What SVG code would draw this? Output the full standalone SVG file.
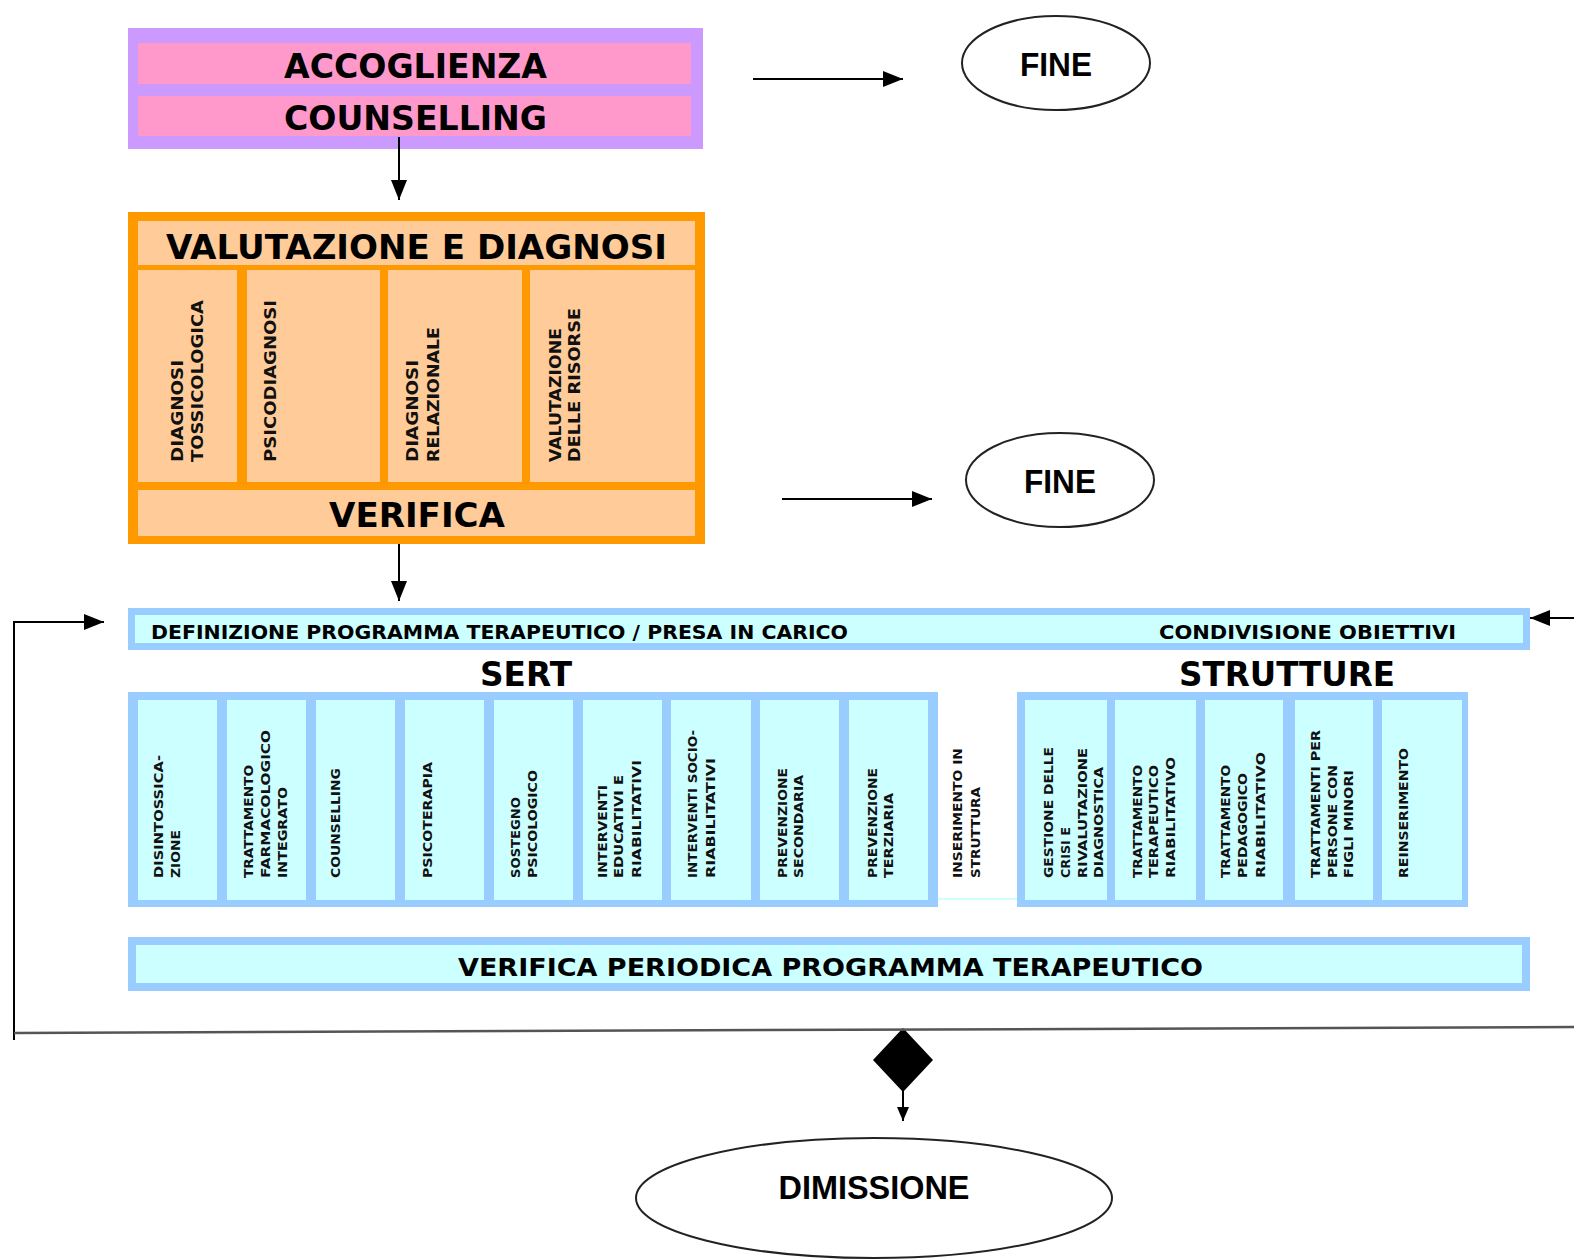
<svg xmlns="http://www.w3.org/2000/svg" width="1574" height="1260" viewBox="0 0 1574 1260">
  <style>
    .head { font-family: "DejaVu Sans", Verdana, sans-serif; font-weight: bold; fill: #000; }
    .term { font-family: "Liberation Sans", Arial, sans-serif; font-weight: bold; fill: #000; text-anchor: middle; }
    .vt { font-family: "DejaVu Sans", Verdana, sans-serif; font-weight: bold; font-size: 15px; fill: #111; }
    .vs { font-family: "DejaVu Sans", Verdana, sans-serif; font-weight: bold; font-size: 12px; fill: #111; }
    .purple { fill: #CC99FF; }
    .pink { fill: #FF99CC; }
    .orange { fill: #FF9900; }
    .peach { fill: #FFCC99; }
    .blue { fill: #99CCFF; }
    .cyan { fill: #CCFFFF; }
    .oval { fill: #fff; stroke: #222; stroke-width: 2; }
    .conn { fill: none; stroke: #000; stroke-width: 2; }
  </style>
  <defs>
    <marker id="arrow" markerUnits="userSpaceOnUse" markerWidth="20" markerHeight="16" refX="20" refY="8" orient="auto">
      <path d="M0,0 L20,8 L0,16 Z" fill="#000"/>
    </marker>
    <marker id="arrow-small" markerUnits="userSpaceOnUse" markerWidth="14" markerHeight="12" refX="14" refY="6" orient="auto">
      <path d="M0,0 L14,6 L0,12 Z" fill="#000"/>
    </marker>
  </defs>
  <rect width="1574" height="1260" fill="#fff"/>

  <!-- Reception / counselling -->
  <g id="accoglienza">
    <rect class="purple" x="128" y="28" width="575" height="121"/>
    <rect class="pink" x="138" y="43" width="553" height="41"/>
    <rect class="pink" x="138" y="96" width="553" height="40"/>
    <text class="head" x="284" y="78" font-size="33" textLength="263" lengthAdjust="spacingAndGlyphs">ACCOGLIENZA</text>
    <text class="head" x="284" y="130" font-size="33" textLength="263" lengthAdjust="spacingAndGlyphs">COUNSELLING</text>
  </g>

  <!-- Assessment and diagnosis -->
  <g id="valutazione">
    <rect class="orange" x="128" y="212" width="577" height="332"/>
    <rect class="peach" x="138" y="221" width="557" height="44"/>
    <rect class="peach" x="138" y="270" width="99" height="212"/>
    <rect class="peach" x="247" y="270" width="133" height="212"/>
    <rect class="peach" x="388" y="270" width="134" height="212"/>
    <rect class="peach" x="530" y="270" width="165" height="212"/>
    <rect class="peach" x="138" y="490" width="557" height="46"/>
    <text class="head" x="166" y="259" font-size="33" textLength="501" lengthAdjust="spacingAndGlyphs">VALUTAZIONE E DIAGNOSI</text>
    <text class="vt" transform="translate(183,462) rotate(-90)" textLength="102" lengthAdjust="spacingAndGlyphs">DIAGNOSI</text>
    <text class="vt" transform="translate(203,462) rotate(-90)" textLength="162" lengthAdjust="spacingAndGlyphs">TOSSICOLOGICA</text>
    <text class="vt" transform="translate(276,462) rotate(-90)" textLength="162" lengthAdjust="spacingAndGlyphs">PSICODIAGNOSI</text>
    <text class="vt" transform="translate(418,462) rotate(-90)" textLength="102" lengthAdjust="spacingAndGlyphs">DIAGNOSI</text>
    <text class="vt" transform="translate(439,462) rotate(-90)" textLength="135" lengthAdjust="spacingAndGlyphs">RELAZIONALE</text>
    <text class="vt" transform="translate(561,462) rotate(-90)" textLength="134" lengthAdjust="spacingAndGlyphs">VALUTAZIONE</text>
    <text class="vt" transform="translate(580,462) rotate(-90)" textLength="154" lengthAdjust="spacingAndGlyphs">DELLE RISORSE</text>
    <text class="head" x="329" y="527" font-size="33" textLength="176" lengthAdjust="spacingAndGlyphs">VERIFICA</text>
  </g>

  <!-- End states -->
  <g id="fine-1">
    <ellipse class="oval" cx="1056" cy="63" rx="94" ry="47"/>
    <text class="term" x="1056" y="76" font-size="33" textLength="72" lengthAdjust="spacingAndGlyphs">FINE</text>
  </g>
  <g id="fine-2">
    <ellipse class="oval" cx="1060" cy="480" rx="94" ry="47"/>
    <text class="term" x="1060" y="493" font-size="33" textLength="72" lengthAdjust="spacingAndGlyphs">FINE</text>
  </g>

  <!-- Therapeutic programme definition -->
  <g id="definizione">
    <rect class="blue" x="128" y="608" width="1402" height="42"/>
    <rect class="cyan" x="135" y="615" width="1388" height="28"/>
    <text class="head" x="151" y="639" font-size="19" textLength="697" lengthAdjust="spacingAndGlyphs">DEFINIZIONE PROGRAMMA TERAPEUTICO / PRESA IN CARICO</text>
    <text class="head" x="1159" y="639" font-size="19" textLength="297" lengthAdjust="spacingAndGlyphs">CONDIVISIONE OBIETTIVI</text>
  </g>

  <!-- SERT services -->
  <g id="sert">
    <text class="head" x="480" y="686" font-size="33" textLength="92" lengthAdjust="spacingAndGlyphs">SERT</text>
    <rect class="blue" x="128" y="692" width="810" height="215"/>
    <rect class="cyan" x="138" y="700" width="79" height="200"/>
    <rect class="cyan" x="227" y="700" width="79" height="200"/>
    <rect class="cyan" x="316" y="700" width="79" height="200"/>
    <rect class="cyan" x="405" y="700" width="79" height="200"/>
    <rect class="cyan" x="494" y="700" width="79" height="200"/>
    <rect class="cyan" x="583" y="700" width="79" height="200"/>
    <rect class="cyan" x="671" y="700" width="80" height="200"/>
    <rect class="cyan" x="760" y="700" width="79" height="200"/>
    <rect class="cyan" x="849" y="700" width="79" height="200"/>
    <text class="vs" transform="translate(163,878) rotate(-90)" textLength="123" lengthAdjust="spacingAndGlyphs">DISINTOSSICA-</text>
    <text class="vs" transform="translate(180,878) rotate(-90)" textLength="48" lengthAdjust="spacingAndGlyphs">ZIONE</text>
    <text class="vs" transform="translate(253,878) rotate(-90)" textLength="113" lengthAdjust="spacingAndGlyphs">TRATTAMENTO</text>
    <text class="vs" transform="translate(270,878) rotate(-90)" textLength="148" lengthAdjust="spacingAndGlyphs">FARMACOLOGICO</text>
    <text class="vs" transform="translate(287,878) rotate(-90)" textLength="91" lengthAdjust="spacingAndGlyphs">INTEGRATO</text>
    <text class="vs" transform="translate(340,878) rotate(-90)" textLength="110" lengthAdjust="spacingAndGlyphs">COUNSELLING</text>
    <text class="vs" transform="translate(432,878) rotate(-90)" textLength="116" lengthAdjust="spacingAndGlyphs">PSICOTERAPIA</text>
    <text class="vs" transform="translate(520,878) rotate(-90)" textLength="81" lengthAdjust="spacingAndGlyphs">SOSTEGNO</text>
    <text class="vs" transform="translate(537,878) rotate(-90)" textLength="108" lengthAdjust="spacingAndGlyphs">PSICOLOGICO</text>
    <text class="vs" transform="translate(607,878) rotate(-90)" textLength="93" lengthAdjust="spacingAndGlyphs">INTERVENTI</text>
    <text class="vs" transform="translate(623,878) rotate(-90)" textLength="103" lengthAdjust="spacingAndGlyphs">EDUCATIVI E</text>
    <text class="vs" transform="translate(641,878) rotate(-90)" textLength="118" lengthAdjust="spacingAndGlyphs">RIABILITATIVI</text>
    <text class="vs" transform="translate(697,878) rotate(-90)" textLength="148" lengthAdjust="spacingAndGlyphs">INTERVENTI SOCIO-</text>
    <text class="vs" transform="translate(715,878) rotate(-90)" textLength="120" lengthAdjust="spacingAndGlyphs">RIABILITATIVI</text>
    <text class="vs" transform="translate(787,878) rotate(-90)" textLength="110" lengthAdjust="spacingAndGlyphs">PREVENZIONE</text>
    <text class="vs" transform="translate(803,878) rotate(-90)" textLength="103" lengthAdjust="spacingAndGlyphs">SECONDARIA</text>
    <text class="vs" transform="translate(877,878) rotate(-90)" textLength="110" lengthAdjust="spacingAndGlyphs">PREVENZIONE</text>
    <text class="vs" transform="translate(893,878) rotate(-90)" textLength="85" lengthAdjust="spacingAndGlyphs">TERZIARIA</text>
  </g>

  <!-- Placement in a facility (link between the two groups) -->
  <g id="inserimento">
    <rect class="cyan" x="938" y="898" width="79" height="2"/>
    <text class="vs" transform="translate(962,878) rotate(-90)" textLength="130" lengthAdjust="spacingAndGlyphs">INSERIMENTO IN</text>
    <text class="vs" transform="translate(980,878) rotate(-90)" textLength="91" lengthAdjust="spacingAndGlyphs">STRUTTURA</text>
  </g>

  <!-- Residential facilities -->
  <g id="strutture">
    <text class="head" x="1179" y="686" font-size="33" textLength="216" lengthAdjust="spacingAndGlyphs">STRUTTURE</text>
    <rect class="blue" x="1017" y="692" width="451" height="215"/>
    <rect class="cyan" x="1025" y="700" width="82" height="200"/>
    <rect class="cyan" x="1115" y="700" width="81" height="200"/>
    <rect class="cyan" x="1205" y="700" width="78" height="200"/>
    <rect class="cyan" x="1295" y="700" width="78" height="200"/>
    <rect class="cyan" x="1382" y="700" width="80" height="200"/>
    <text class="vs" transform="translate(1053,878) rotate(-90)" textLength="131" lengthAdjust="spacingAndGlyphs">GESTIONE DELLE</text>
    <text class="vs" transform="translate(1070,878) rotate(-90)" textLength="51" lengthAdjust="spacingAndGlyphs">CRISI E</text>
    <text class="vs" transform="translate(1087,878) rotate(-90)" textLength="130" lengthAdjust="spacingAndGlyphs">RIVALUTAZIONE</text>
    <text class="vs" transform="translate(1103,878) rotate(-90)" textLength="111" lengthAdjust="spacingAndGlyphs">DIAGNOSTICA</text>
    <text class="vs" transform="translate(1142,878) rotate(-90)" textLength="113" lengthAdjust="spacingAndGlyphs">TRATTAMENTO</text>
    <text class="vs" transform="translate(1158,878) rotate(-90)" textLength="113" lengthAdjust="spacingAndGlyphs">TERAPEUTICO</text>
    <text class="vs" transform="translate(1175,878) rotate(-90)" textLength="121" lengthAdjust="spacingAndGlyphs">RIABILITATIVO</text>
    <text class="vs" transform="translate(1230,878) rotate(-90)" textLength="113" lengthAdjust="spacingAndGlyphs">TRATTAMENTO</text>
    <text class="vs" transform="translate(1247,878) rotate(-90)" textLength="105" lengthAdjust="spacingAndGlyphs">PEDAGOGICO</text>
    <text class="vs" transform="translate(1265,878) rotate(-90)" textLength="126" lengthAdjust="spacingAndGlyphs">RIABILITATIVO</text>
    <text class="vs" transform="translate(1320,878) rotate(-90)" textLength="148" lengthAdjust="spacingAndGlyphs">TRATTAMENTI PER</text>
    <text class="vs" transform="translate(1337,878) rotate(-90)" textLength="113" lengthAdjust="spacingAndGlyphs">PERSONE CON</text>
    <text class="vs" transform="translate(1353,878) rotate(-90)" textLength="108" lengthAdjust="spacingAndGlyphs">FIGLI MINORI</text>
    <text class="vs" transform="translate(1408,878) rotate(-90)" textLength="130" lengthAdjust="spacingAndGlyphs">REINSERIMENTO</text>
  </g>

  <!-- Periodic review -->
  <g id="verifica-periodica">
    <rect class="blue" x="128" y="937" width="1402" height="54"/>
    <rect class="cyan" x="136" y="945" width="1386" height="38"/>
    <text class="head" x="458" y="976" font-size="24" textLength="745" lengthAdjust="spacingAndGlyphs">VERIFICA PERIODICA PROGRAMMA TERAPEUTICO</text>
  </g>

  <!-- Decision point -->
  <g id="decisione">
    <path d="M903,1028 L933,1060 L903,1092 L873,1060 Z" fill="#000"/>
  </g>

  <!-- Discharge -->
  <g id="dimissione">
    <ellipse class="oval" cx="874" cy="1198" rx="238" ry="60"/>
    <text class="term" x="874" y="1199" font-size="33" textLength="191" lengthAdjust="spacingAndGlyphs">DIMISSIONE</text>
  </g>

  <!-- Connectors -->
  <g id="connectors">
    <line class="conn" x1="399" y1="137" x2="399" y2="200" marker-end="url(#arrow)"/>
    <line class="conn" x1="753" y1="79" x2="903" y2="79" marker-end="url(#arrow)"/>
    <line class="conn" x1="399" y1="544" x2="399" y2="601" marker-end="url(#arrow)"/>
    <line class="conn" x1="782" y1="499" x2="932" y2="499" marker-end="url(#arrow)"/>
    <polyline class="conn" points="14,1040 14,622 104,622" marker-end="url(#arrow)"/>
    <line class="conn" x1="1574" y1="618" x2="1530" y2="618" marker-end="url(#arrow)"/>
    <line x1="14" y1="1033" x2="1574" y2="1027" stroke="#555" stroke-width="2.5"/>
    <line class="conn" x1="903" y1="1090" x2="903" y2="1121" marker-end="url(#arrow-small)"/>
  </g>
</svg>
